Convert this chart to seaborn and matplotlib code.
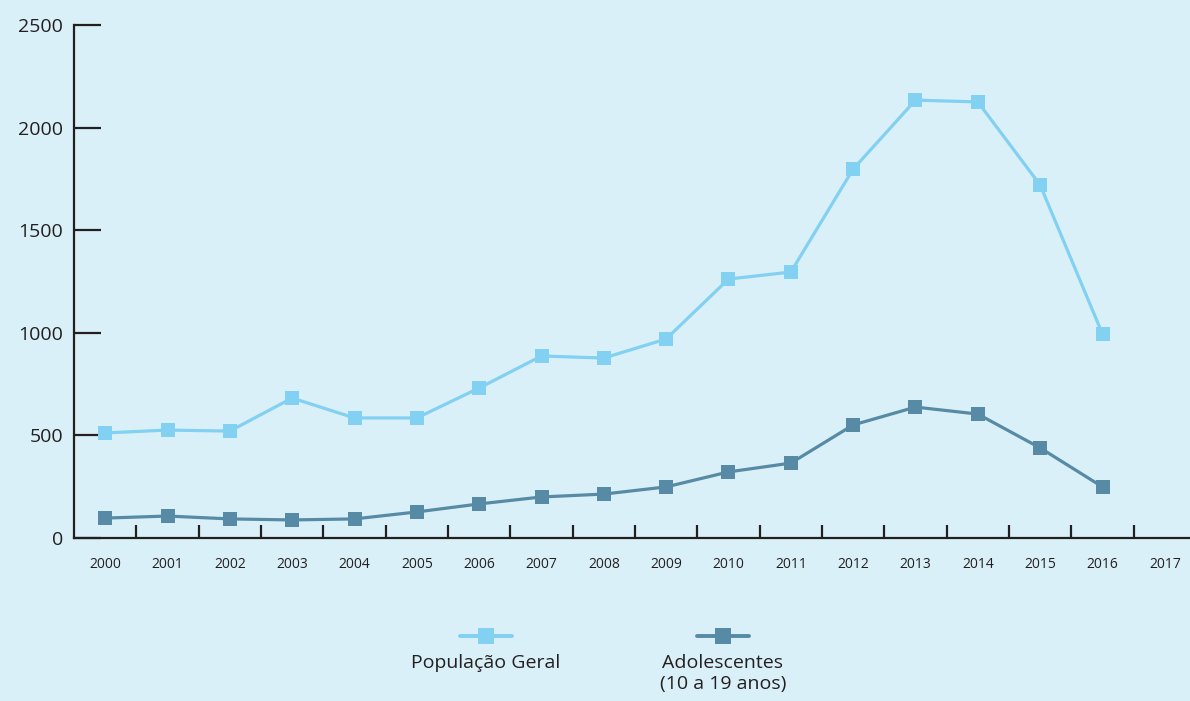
import numpy as np
import pandas as pd
import matplotlib.pyplot as plt
import seaborn as sns
from matplotlib.lines import Line2D
from matplotlib.ticker import FixedLocator

years = list(range(2000, 2018))
data_years = list(range(2000, 2017))
pop_geral = [512, 526, 521, 682, 585, 585, 731, 887, 877, 970,
             1262, 1296, 1798, 2134, 2125, 1720, 994]
adolescentes = [97, 107, 93, 88, 93, 127, 166, 200, 214, 249,
                322, 365, 551, 638, 604, 439, 249]
series_names = ['População Geral', 'Adolescentes\n(10 a 19 anos)']
colors = ['#82d0f2', '#578ba5']
bg = '#daf0f8'
ink = '#231f20'

sns.set_style('white')
plt.rcParams['font.family'] = ['Open Sans', 'DejaVu Sans']

df = pd.DataFrame({
    'pos': list(range(len(data_years))) * 2,
    'value': pop_geral + adolescentes,
    'series': [series_names[0]] * len(data_years) + [series_names[1]] * len(data_years),
})

fig = plt.figure(figsize=(11.9, 7.01), dpi=100, facecolor=bg)
ax = fig.add_axes([74 / 1190, 163 / 701, 1122 / 1190, 513 / 701])
ax.set_facecolor(bg)

for name, color in zip(series_names, colors):
    sub = df[df['series'] == name]
    sns.lineplot(data=sub, x='pos', y='value', ax=ax, color=color, linewidth=2.3,
                 marker='s', markersize=9.5, markeredgewidth=0, legend=False)

ax.set_xlim(-0.5, len(years) - 0.5)
ax.set_ylim(0, 2500)
ax.set_yticks([0, 500, 1000, 1500, 2000, 2500])
ax.set_yticklabels(['0', '500', '1000', '1500', '2000', '2500'])
ax.set_xticks(range(len(years)))
ax.set_xticklabels([str(y) for y in years])
ax.xaxis.set_minor_locator(FixedLocator(np.arange(0.5, len(years) - 0.5, 1)))
ax.set_xlabel('')
ax.set_ylabel('')

for side in ['top', 'right']:
    ax.spines[side].set_visible(False)
for side in ['left', 'bottom']:
    ax.spines[side].set_color(ink)
    ax.spines[side].set_linewidth(1.6)

ax.tick_params(axis='y', left=True, direction='in', length=19.5, width=1.6, color=ink,
               labelsize=14, labelcolor=ink, pad=8)
ax.tick_params(axis='x', which='major', bottom=True, length=0, labelsize=10,
               labelcolor=ink, pad=14)
ax.tick_params(axis='x', which='minor', bottom=True, direction='in', length=9.5,
               width=1.6, color=ink)

# legend: markers above labels
leg_x = [486, 723]
for name, color, lx in zip(series_names, colors, leg_x):
    h = Line2D([(lx - 26) / 1190, (lx + 26) / 1190], [1 - 636 / 701] * 2,
               transform=fig.transFigure, color=color, linewidth=2.8)
    m = Line2D([lx / 1190], [1 - 636 / 701], transform=fig.transFigure, color=color,
               marker='s', markersize=11, markeredgewidth=0, linestyle='none')
    fig.add_artist(h)
    fig.add_artist(m)
    fig.text(lx / 1190, 1 - 654 / 701, name, ha='center', va='top', fontsize=14,
             color=ink, linespacing=1.2)

fig.savefig('out.png', dpi=100, facecolor=bg)
